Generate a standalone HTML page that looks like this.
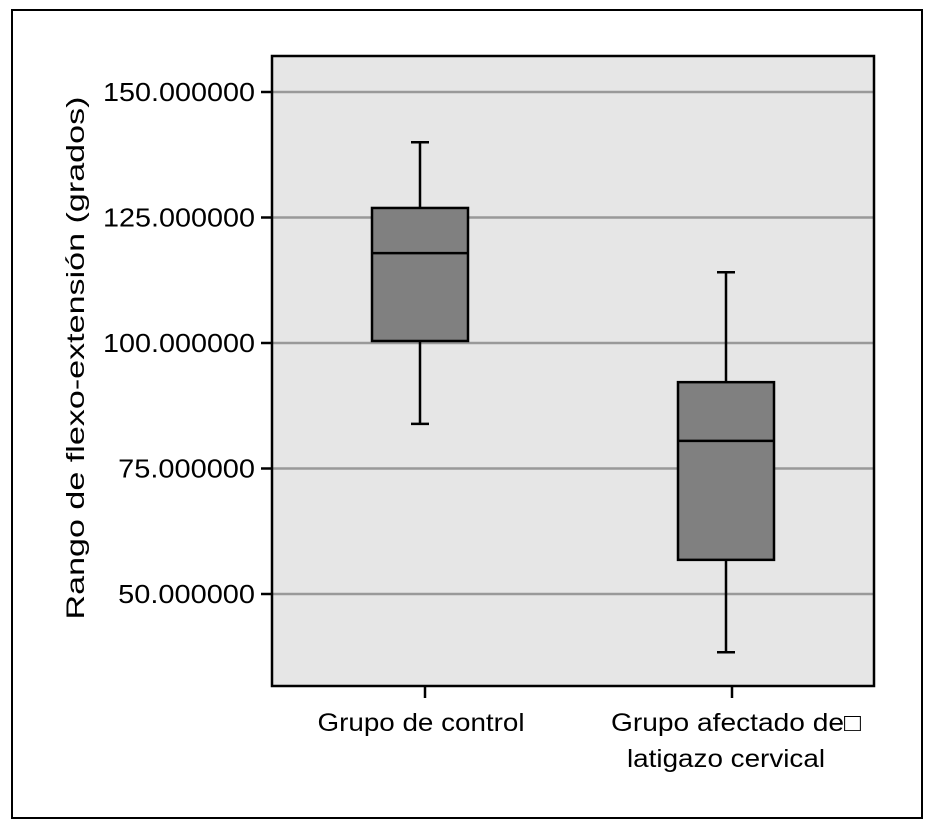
<!DOCTYPE html>
<html><head><meta charset="utf-8"><style>
html,body{margin:0;padding:0;background:#fff;}
svg{display:block;font-family:"Liberation Sans",sans-serif;}
</style></head><body>
<svg id="chart" width="936" height="832">
<rect x="12" y="10" width="910" height="808" fill="#fff" stroke="#000" stroke-width="2"/>
<rect x="272" y="56" width="602" height="630" fill="#e6e6e6"/>
<g id="grid"></g>
<g id="boxes"></g>
<rect x="272" y="56" width="602" height="630" fill="none" stroke="#000" stroke-width="2.5"/>
<g id="axes"></g>
<text transform="translate(84,358) rotate(-90)" text-anchor="middle" font-size="25" textLength="523" lengthAdjust="spacingAndGlyphs">Rango de flexo-extensión (grados)</text>
</svg>
<script>
const categories = ["Grupo de control", "Grupo afectado de\u25A1|latigazo cervical"];
const whiskerHigh = [140, 114.1];
const q3 = [126.9, 92.2];
const median = [117.9, 80.5];
const q1 = [100.4, 56.8];
const whiskerLow = [83.9, 38.4];
const yTicks = [50, 75, 100, 125, 150];
const yTickLabels = ["50.000000", "75.000000", "100.000000", "125.000000", "150.000000"];

const NS = "http://www.w3.org/2000/svg";
function y(v){ return 343 - (v - 100) * 125.5 / 25; }
function x(i){ return 420 + i * 306; }
function mk(tag, attrs, parent){ const e=document.createElementNS(NS,tag); for(const k in attrs) e.setAttribute(k,attrs[k]); parent.appendChild(e); return e; }
const grid=document.getElementById('grid'), boxes=document.getElementById('boxes'), axes=document.getElementById('axes');
yTicks.forEach((t,i)=>{
  const g=mk('line',{x1:272,x2:874,y1:y(t),y2:y(t),stroke:'#999','stroke-width':2.5},grid);
  
  
  const tk=mk('line',{x1:261,x2:272,y1:y(t),y2:y(t),stroke:'#000','stroke-width':2.5},axes);
  
  
  const lbl=yTickLabels[i];
  const tx=mk('text',{x:255,y:y(t)+9,'text-anchor':'end','font-size':26,textLength:lbl.length*15.2,lengthAdjust:'spacingAndGlyphs'},axes);
  
  
  tx.textContent=lbl;
});
const labelCenters=[[421],[736,726]];
const labelLens=[[207],[250,198]];
categories.forEach((c,i)=>{
  const cx=x(i), w=96;
  const s={stroke:'#000','stroke-width':2.5};
  const wl=mk('line',Object.assign({x1:cx,x2:cx,y1:y(whiskerHigh[i]),y2:y(whiskerLow[i])},s),boxes);
  
  
  [whiskerHigh[i],whiskerLow[i]].forEach(v=>{
    const cap=mk('line',Object.assign({x1:cx-9,x2:cx+9,y1:y(v),y2:y(v)},s),boxes);
    
    
  });
  const b=mk('rect',Object.assign({x:cx-w/2,y:y(q3[i]),width:w,height:y(q1[i])-y(q3[i]),fill:'#808080'},s),boxes);
  
  
  const m=mk('line',Object.assign({x1:cx-w/2,x2:cx+w/2,y1:y(median[i]),y2:y(median[i])},s),boxes);
  
  
  const tk=mk('line',{x1:cx+(i?6:5),x2:cx+(i?6:5),y1:686,y2:698,stroke:'#000','stroke-width':2.5},axes);
  
  
  c.split('|').forEach((ln,j)=>{
    const t=mk('text',{x:labelCenters[i][j],y:731+j*36,'text-anchor':'middle','font-size':25,textLength:labelLens[i][j],lengthAdjust:'spacingAndGlyphs'},axes);
    
    
    t.textContent=ln;
  });
});
</script>
</body></html>
